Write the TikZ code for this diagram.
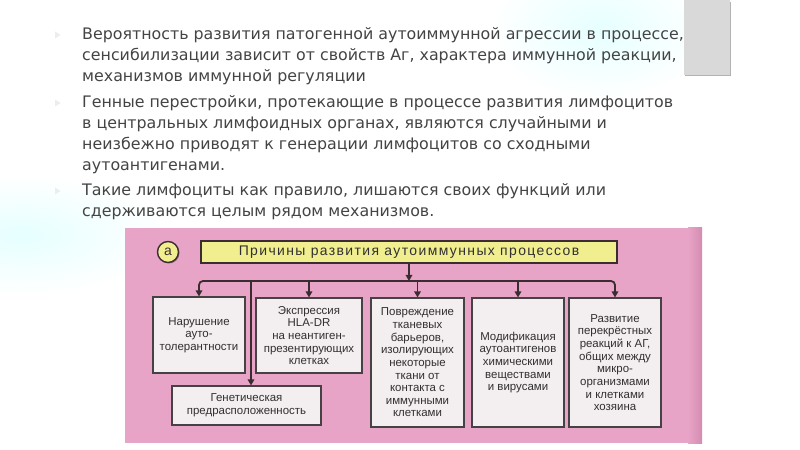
\documentclass[tikz,border=0pt]{standalone}
\usepackage{fontspec}
\setmainfont{Liberation Sans}
\newfontfamily\topfont{DejaVu Sans}
\usetikzlibrary{arrows.meta,shadows}
\definecolor{pinkbg}{RGB}{231,164,198}
\definecolor{pinkedge}{RGB}{212,140,176}
\definecolor{boxfill}{RGB}{243,239,240}
\definecolor{boxline}{RGB}{70,66,68}
\definecolor{yel}{RGB}{240,238,142}
\definecolor{linec}{RGB}{58,44,48}
\definecolor{txt}{RGB}{50,47,49}
\definecolor{toptxt}{RGB}{68,68,68}
\definecolor{grayrect}{RGB}{217,217,217}
\begin{document}
\begin{tikzpicture}[x=1bp,y=-1bp,
  cbox/.style={draw=boxline, line width=1.1bp, fill=boxfill, inner sep=0pt, align=center, text=txt,
    font=\fontsize{11.5}{12.7}\selectfont,
    drop shadow={shadow xshift=1.3bp, shadow yshift=-1.3bp, fill=black, opacity=0.35}},
  conn/.style={draw=linec, line width=1.8bp},
  arr/.style={conn, -{Triangle[length=6bp,width=6.5bp]}},
  topline/.style={anchor=base west, inner sep=0pt, text=toptxt, font=\topfont\fontsize{15.9}{18}\selectfont},
  bul/.style={fill=black!7, draw=none}
]
\useasboundingbox (0,0) rectangle (800,450);
\fill[white] (0,0) rectangle (800,450);
% faint glows
\shade[inner color=cyan!10, outer color=white] (600,30) ellipse (110 and 70);
\shade[inner color=cyan!10, outer color=white] (20,235) ellipse (150 and 60);
% grey tab
\fill[black!30] (685,2) rectangle (731,76.5);
\fill[grayrect] (684,-3) rectangle (730,75);
% bullets
\foreach \yy in {35,103,191}{
  \fill[bul] (55,\yy-3.5) -- (60.5,\yy) -- (55,\yy+3.5) -- cycle;
}
% top text
\node[topline] (p1a) at (82,40) {Вероятность развития патогенной аутоиммунной агрессии в процессе,};
\node[topline] (p1b) at (82,60.7) {сенсибилизации зависит от свойств Аг, характера иммунной реакции,};
\node[topline] (p1c) at (82,81.4) {механизмов иммунной регуляции};
\node[topline] (p2a) at (82,108) {Генные перестройки, протекающие в процессе развития лимфоцитов};
\node[topline] (p2b) at (82,128.7) {в центральных лимфоидных органах, являются случайными и};
\node[topline] (p2c) at (82,149.4) {неизбежно приводят к генерации лимфоцитов со сходными};
\node[topline] (p2d) at (82,170.1) {аутоантигенами.};
\node[topline] (p3a) at (82,196) {Такие лимфоциты как правило, лишаются своих функций или};
\node[topline] (p3b) at (82,216.7) {сдерживаются целым рядом механизмов.};
% pink panel
\fill[pinkbg] (125,228) rectangle (702,443);
\shade[left color=pinkbg, right color=pinkedge] (688,228) rectangle (702,443);
% header
\node[circle, draw=linec, line width=1.4bp, fill=yel, minimum size=21bp, inner sep=0pt,
  font=\fontsize{14}{14}\selectfont, text=linec,
  drop shadow={shadow xshift=1bp, shadow yshift=-1bp, fill=black, opacity=0.35}] (ca) at (168,252) {а};
\node[draw=linec, line width=1.3bp, fill=yel, minimum width=416bp, minimum height=22bp, inner sep=0pt,
  text=txt, font=\fontsize{14}{16}\selectfont\addfontfeature{LetterSpace=10},
  drop shadow={shadow xshift=1.3bp, shadow yshift=-1.3bp, fill=black, opacity=0.35}] (title) at (409,252)
  {Причины развития аутоиммунных процессов};
% boxes
\node[cbox, minimum width=92bp, minimum height=76bp] (b1) at (199,335) {Нарушение\\ауто-\\толерантности};
\node[cbox, minimum width=106bp, minimum height=75bp] (b2) at (309,335.5) {Экспрессия\\HLA-DR\\на неантиген-\\презентирующих\\клетках};
\node[cbox, minimum width=93bp, minimum height=129bp] (b3) at (417.5,362.5) {Повреждение\\тканевых\\барьеров,\\изолирующих\\некоторые\\ткани от\\контакта с\\иммунными\\клетками};
\node[cbox, minimum width=92bp, minimum height=129bp] (b4) at (518,362.5) {Модификация\\аутоантигенов\\химическими\\веществами\\и вирусами};
\node[cbox, minimum width=92bp, minimum height=129bp] (b5) at (615,362.5) {Развитие\\перекрёстных\\реакций к АГ,\\общих между\\микро-\\организмами\\и клетками\\хозяина};
\node[cbox, minimum width=149bp, minimum height=39bp] (gen) at (246.5,405.5) {Генетическая\\предрасположенность};
% connectors
\coordinate (busy) at (0,281);
\coordinate (gx) at (251,281);
\draw[arr, rounded corners=4bp] (title.south |- busy) -| (b1.north);
\draw[arr, rounded corners=4bp] (title.south |- busy) -| (b5.north);
\draw[arr] (title.south) -- (title.south |- busy);
\draw[arr] (b2.north |- busy) -- (b2.north);
\draw[arr] (b3.north |- busy) -- (b3.north);
\draw[arr] (b4.north |- busy) -- (b4.north);
\draw[arr] (gx) -- (gx |- gen.north);
\end{tikzpicture}
\end{document}
